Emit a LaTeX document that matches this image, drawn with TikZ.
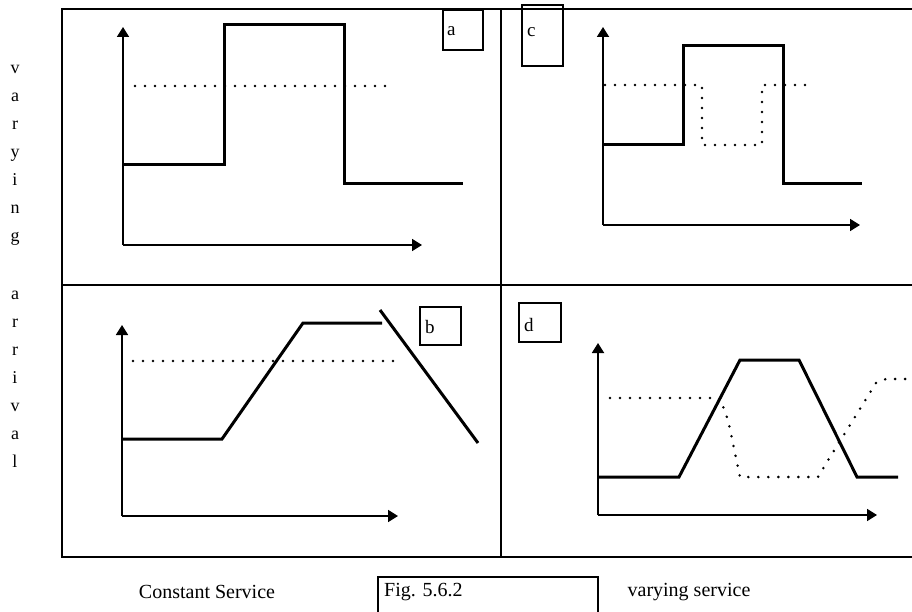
\documentclass[tikz,border=0pt]{standalone}
\usepackage{fontspec}
\setmainfont{Liberation Serif}
\usetikzlibrary{arrows.meta}
\tikzset{
    x=1pt, y=-1pt, font=\fontsize{19}{22}\selectfont,
    frame/.style={line width=2pt, black},
    axis/.style={-{Triangle[length=10pt, width=12pt]}, line width=1.8pt},
    curve/.style={line width=3pt, line join=miter},
    level/.style={line width=2.8pt, dash pattern=on 0pt off 10pt, line cap=round},
    tag/.style={line width=1.6pt},
    tagtxt/.style={inner sep=0pt, anchor=west},
    caption/.style={inner sep=0pt, font=\fontsize{20}{24}\selectfont},
    side/.style={inner sep=0pt, anchor=base, font=\fontsize{18}{20}\selectfont},
}
% origin x, origin y, x tip, y tip
\newcommand{\panelaxes}[4]{%
    \draw[axis] (#1,#2) -- (#3,#2);
    \draw[axis] (#1,#2) -- (#1,#4);
}

\begin{document}
\begin{tikzpicture}
    \useasboundingbox (0,0) rectangle (912,612);

    % frame and quadrants
    \draw[frame] (912,9) -- (62,9) -- (62,557) -- (912,557);
    \draw[frame] (62,285) -- (912,285);
    \draw[frame] (501,9) -- (501,557);

    % a: constant service, varying arrival
    \panelaxes{123}{245}{422}{27}
    \draw[curve] (123,165) -- (224,165) -- (224,25) -- (344,25)
                 -- (344,184) -- (463,184);
    \draw[level] (135,86) -- (395,86);
    \draw[tag] (443,10) rectangle (483,50);
    \node[tagtxt] (ta) at (447,31) {a};

    % c
    \panelaxes{603}{225}{860}{27}
    \draw[curve] (603,145) -- (683,145) -- (683,46) -- (783,46)
                 -- (783,184) -- (862,184);
    \draw[level] (605,85) -- (702,85) -- (702,145) -- (762,145)
                 -- (762,85) -- (815,85);
    \draw[tag] (522,5) rectangle (563,66);
    \node[tagtxt] (tc) at (527,32) {c};

    % b
    \panelaxes{122}{516}{398}{325}
    \draw[curve] (122,439) -- (222,439) -- (303,323) -- (382,323);
    \draw[curve] (380,310) -- (478,443);
    \draw[level] (133,361) -- (395,361);
    \draw[tag] (420,307) rectangle (461,345);
    \node[tagtxt] (tb) at (425,327) {b};

    % d
    \panelaxes{598}{515}{877}{343}
    \draw[curve] (598,477) -- (679,477) -- (740,360) -- (799,360)
                 -- (857,477) -- (898,477);
    \draw[level] (610,398) -- (720,398) -- (728,420) -- (740,477)
                 -- (818,477) -- (827,462) -- (876,383) -- (886,379)
                 -- (912,379);
    \draw[tag] (519,303) rectangle (561,342);
    \node[tagtxt] (td) at (524,325) {d};

    % side text
    \foreach \ch [count=\k] in {v,a,r,y,i,n,g}
        \node[side] (var\k) at (15,{46+28*\k}) {\ch};
    \foreach \ch [count=\k] in {a,r,r,i,v,a,l}
        \node[side] (arr\k) at (15,{271+28*\k}) {\ch};

    % captions
    \node[caption] (cs) at (207,592) {Constant Service};
    \draw[tag] (598,612) -- (598,577) -- (378,577) -- (378,612);
    \node[caption, anchor=west] (fig) at (384,592) {Fig. 5.6.2};
    \node[caption] (vs) at (689,592) {varying service};
\end{tikzpicture}
\end{document}
